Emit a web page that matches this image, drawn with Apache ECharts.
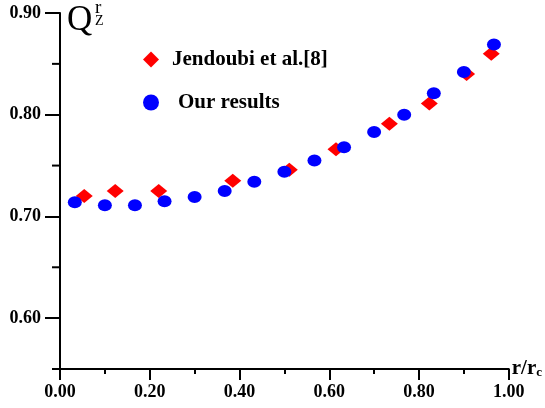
<!DOCTYPE html>
<html>
<head>
<meta charset="utf-8">
<script src="https://cdn.jsdelivr.net/npm/echarts@6/dist/echarts.min.js"></script>
<style>
  html, body { margin: 0; padding: 0; background: #fff; }
  #chart { width: 545px; height: 408px; }
</style>
</head>
<body>
<div id="chart"></div>
<script>
// values
const jendoubiX = [0.054, 0.123, 0.220, 0.385, 0.511, 0.615, 0.734, 0.823, 0.906, 0.961];
const jendoubiY = [0.720, 0.725, 0.725, 0.735, 0.746, 0.766, 0.791, 0.811, 0.840, 0.860];
const oursX = [0.033, 0.100, 0.167, 0.233, 0.300, 0.367, 0.433, 0.500, 0.567, 0.633, 0.700, 0.767, 0.833, 0.900, 0.967];
const oursY = [0.714, 0.711, 0.711, 0.715, 0.719, 0.725, 0.734, 0.744, 0.755, 0.768, 0.783, 0.800, 0.821, 0.842, 0.869];
const yTicks = [0.6, 0.7, 0.8, 0.9];
const yMinorTicks = [0.55, 0.65, 0.75, 0.85];

const serif = "'Liberation Serif', 'Times New Roman', serif";
const black = "#000";
const yMin = 0.55;
const yMax = 0.9;

function legendFor(name, icon, top, gap) {
  return {
    data: [{ name: name, icon: icon }],
    left: 143,
    top: top,
    padding: 0,
    itemWidth: 16,
    itemHeight: 16,
    selectedMode: false,
    formatter: (n) => `{t|${n}}`,
    textStyle: {
      rich: {
        t: {
          fontFamily: serif,
          fontWeight: "bold",
          fontSize: 21,
          lineHeight: 20,
          color: black,
          padding: [0, 0, 0, gap],
        },
      },
    },
  };
}

const hiddenSplit = { show: true, lineStyle: { color: "rgba(0,0,0,0)", width: 0 } };

const chart = echarts.init(document.getElementById("chart"));

const option = {
  animation: false,
  grid: { left: 60, right: 36, top: 13, bottom: 39 },
  xAxis: {
    type: "value",
    min: 0,
    max: 1,
    interval: 0.2,
    name: "{m|r/r}{s|c}",
    nameLocation: "end",
    nameGap: 3,
    nameTextStyle: {
      rich: {
        m: { fontFamily: serif, fontWeight: "bold", fontSize: 21, lineHeight: 20, color: black },
        s: { fontFamily: serif, fontWeight: "bold", fontSize: 13, lineHeight: 8, verticalAlign: "bottom", color: black },
      },
    },
    axisLine: { show: true, lineStyle: { color: black, width: 2 } },
    axisTick: { show: true, length: 11, lineStyle: { color: black, width: 2 } },
    minorTick: { show: true, splitNumber: 2, length: 5, lineStyle: { color: black, width: 2 } },
    splitLine: hiddenSplit,
    axisLabel: {
      formatter: (v) => v.toFixed(2),
      fontFamily: serif,
      fontWeight: "bold",
      fontSize: 18,
      color: black,
      margin: 14,
    },
  },
  yAxis: {
    type: "value",
    min: yMin,
    max: yMax,
    axisLine: { show: true, lineStyle: { color: black, width: 2 } },
    axisTick: { show: true, customValues: yTicks, length: 15, lineStyle: { color: black, width: 2 } },
    splitLine: hiddenSplit,
    axisLabel: {
      customValues: yTicks,
      formatter: (v) => v.toFixed(2),
      fontFamily: serif,
      fontWeight: "bold",
      fontSize: 18,
      color: black,
      margin: 19,
    },
  },
  legend: [
    legendFor("Jendoubi et al.[8]", "diamond", 49, 8),
    legendFor("Our results", "circle", 92, 14),
  ],
  series: [
    {
      name: "Jendoubi et al.[8]",
      type: "scatter",
      symbol: "diamond",
      symbolSize: [17, 14],
      itemStyle: { color: "#ff0000", opacity: 1 },
      data: jendoubiX.map((x, i) => [x, jendoubiY[i]]),
    },
    {
      name: "Our results",
      type: "scatter",
      symbol: "circle",
      symbolSize: [14, 12],
      itemStyle: { color: "#0000ff", opacity: 1 },
      data: oursX.map((x, i) => [x, oursY[i]]),
    },
  ],
};

chart.setOption(option);

// short ticks on the y axis, placed through the axis scale
const marks = yMinorTicks.map((v) => {
  const p = chart.convertToPixel({ xAxisIndex: 0, yAxisIndex: 0 }, [0, v]);
  return {
    type: "line",
    z: 100,
    shape: { x1: p[0] - 8, y1: p[1], x2: p[0], y2: p[1] },
    style: { stroke: black, lineWidth: 2 },
  };
});

marks.push(
  { type: "text", x: 67, y: 21, style: { text: "Q", font: `35px ${serif}`, fill: black, verticalAlign: "middle" } },
  { type: "text", x: 95, y: 8, style: { text: "r", font: `19px ${serif}`, fill: black, verticalAlign: "middle" } },
  { type: "text", x: 95, y: 21, style: { text: "Z", font: `14px ${serif}`, fill: black, verticalAlign: "middle" } }
);

chart.setOption({ graphic: { elements: marks } });
</script>
</body>
</html>
